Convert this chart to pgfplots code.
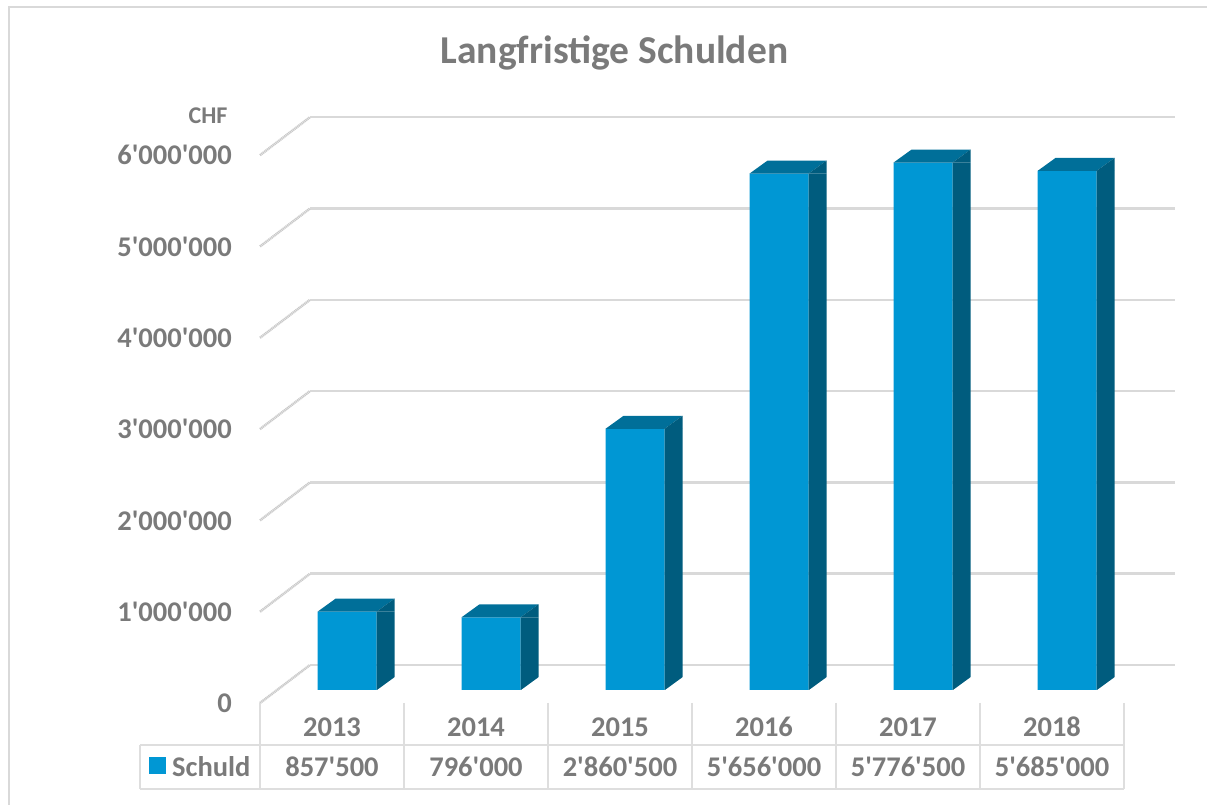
\documentclass[border=0pt]{standalone}
\usepackage{pgfplots}
\usepackage{pgfplotstable}
\pgfplotsset{compat=1.18}
\usepackage{fontspec}
\setmainfont{Carlito}[Ligatures=TeXOff]
\definecolor{frontc}{RGB}{0,151,212}
\definecolor{topc}{RGB}{0,111,153}
\definecolor{sidec}{RGB}{0,92,126}
\definecolor{txtc}{RGB}{122,122,122}
\definecolor{gridc}{RGB}{217,217,217}
\definecolor{tabc}{RGB}{222,222,222}

\pgfdeclareplotmark{bartop}{%
  \pgfpathmoveto{\pgfpoint{-29.5pt}{0pt}}%
  \pgfpathlineto{\pgfpoint{29.5pt}{0pt}}%
  \pgfpathlineto{\pgfpoint{47.5pt}{13pt}}%
  \pgfpathlineto{\pgfpoint{-11.5pt}{13pt}}%
  \pgfpathclose
  \pgfsetfillcolor{topc}\pgfusepath{fill}%
  \pgfpathmoveto{\pgfpoint{29.5pt}{0pt}}%
  \pgfpathlineto{\pgfpoint{47.5pt}{13pt}}%
  \pgfpathlineto{\pgfpoint{47.5pt}{0pt}}%
  \pgfpathclose
  \pgfsetfillcolor{sidec}\pgfusepath{fill}%
}
\pgfdeclareplotmark{barfoot}{%
  \pgfpathmoveto{\pgfpoint{29.5pt}{-0.5pt}}%
  \pgfpathlineto{\pgfpoint{48pt}{-0.5pt}}%
  \pgfpathlineto{\pgfpoint{48pt}{13pt}}%
  \pgfpathclose
  \pgfsetfillcolor{white}\pgfusepath{fill}%
}

\pgfplotstableread{
x y
0 857500
1 796000
2 2860500
3 5656000
4 5776500
5 5685000
}\data

\newcommand{\lblfont}{\fontsize{28.5}{33}\selectfont\bfseries}

\begin{document}
\begin{tikzpicture}
\useasboundingbox (0,0) rectangle (1207pt,805pt);
% outer frame (left and top only visible)
\draw[gridc, line width=2pt] (9pt,0pt) -- (9pt,798pt) -- (1207pt,798pt);

% title
\node[anchor=base, text=txtc, font=\fontsize{39.5}{46}\selectfont\bfseries] at (614.5pt,741pt) {Langfristige Schulden};
% unit
\node[text=txtc, font=\fontsize{24}{28}\selectfont\bfseries] at (208pt,689pt) {CHF};

% back wall with gridlines and tick labels
\begin{axis}[
  at={(310pt,140pt)}, anchor=south west,
  scale only axis, width=865pt, height=547.8pt,
  xmin=0, xmax=1, ymin=0, ymax=6000000,
  xtick=\empty, scaled y ticks=false,
  ytick={0,1000000,2000000,3000000,4000000,5000000,6000000},
  yticklabels={0,1'000'000,2'000'000,3'000'000,4'000'000,5'000'000,6'000'000},
  ymajorgrids, grid style={gridc, line width=2.5pt},
  axis line style={draw=none}, major tick length=0pt,
  yticklabel style={text=txtc, font=\lblfont, anchor=east, inner sep=0pt, xshift=-78pt, yshift=-38pt},
  clip=false,
]
\pgfplotsinvokeforeach{0,...,6}{%
  \draw[gridc!85!gray, line width=2.5pt, dash pattern=on 1.2pt off 0.6pt]
    ([xshift=-50pt,yshift=-38pt]axis cs:0,#1e6) -- (axis cs:0,#1e6);
}
\end{axis}

% bars (front plane)
\begin{axis}[
  at={(275pt,115pt)}, anchor=south west,
  scale only axis, width=864pt, height=547.8pt,
  xmin=-0.5, xmax=5.5, ymin=0, ymax=6000000,
  hide axis, clip=false,
]
\addplot[ybar, bar width=59pt, bar shift=0pt, fill=frontc, draw=none] table {\data};
\addplot[ybar, bar width=18pt, bar shift=38.5pt, fill=sidec, draw=none] table {\data};
\addplot[only marks, mark=bartop] table {\data};
\addplot[only marks, mark=barfoot] table[y expr=0] {\data};
\end{axis}

% data table
\begin{scope}[tabc, line width=1.5pt]
\foreach \xx in {260,404,548,692,836,980,1124} {\draw (\xx pt,102pt) -- (\xx pt,16pt);}
\draw (140pt,60pt) -- (1124pt,60pt);
\draw (140pt,16pt) -- (1124pt,16pt);
\draw (140pt,60pt) -- (140pt,16pt);
\end{scope}
\foreach \lab [count=\i from 0] in {2013,2014,2015,2016,2017,2018} {
  \node[text=txtc, font=\lblfont] at (332pt+144pt*\i,78pt) {\lab};
}
\foreach \lab [count=\i from 0] in {857'500,796'000,2'860'500,5'656'000,5'776'500,5'685'000} {
  \node[text=txtc, font=\lblfont] at (332pt+144pt*\i,38pt) {\lab};
}
\fill[frontc] (149pt,31pt) rectangle (166pt,48pt);
\node[anchor=west, inner sep=0pt, text=txtc, font=\lblfont] at (172pt,38pt) {Schuld};
\end{tikzpicture}
\end{document}
